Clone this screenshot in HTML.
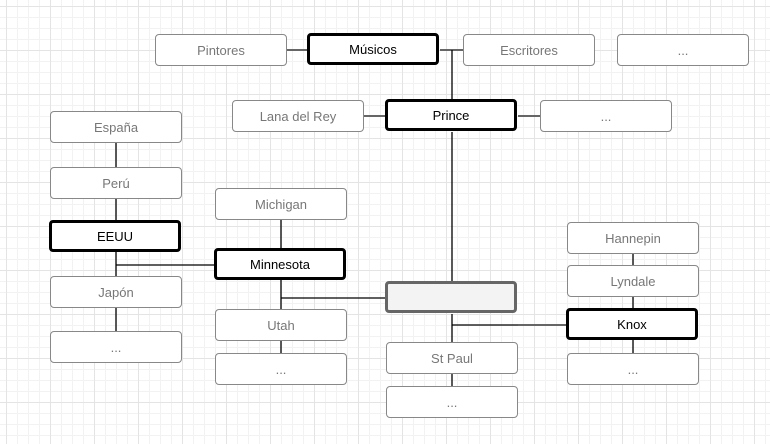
<!DOCTYPE html>
<html><head><meta charset="utf-8"><style>
body{margin:0;width:770px;height:444px;overflow:hidden;background:#fff;
background-image:linear-gradient(#e4e4e4 1px,transparent 1px),linear-gradient(90deg,#e4e4e4 1px,transparent 1px),linear-gradient(#f2f2f2 1px,transparent 1px),linear-gradient(90deg,#f2f2f2 1px,transparent 1px);
background-size:44px 44px,44px 44px,11px 11px,11px 11px;background-position:6px 6px,6px 6px,6px 6px,6px 6px;font-family:"Liberation Sans",sans-serif;position:relative}
.b{position:absolute;width:130px;height:30px;border:1px solid #888;border-radius:4px;background:#fff;color:#777;font-size:13px;display:flex;align-items:center;justify-content:center;box-sizing:content-box}
.k{border:3px solid #000;width:126px;height:26px;color:#000;font-size:13px}
svg{position:absolute;left:0;top:0}
</style></head><body>
<svg width="770" height="444">
<g stroke="#666" stroke-width="2" fill="none">
<line x1="287" y1="50" x2="308" y2="50"/><line x1="440" y1="50" x2="463" y2="50"/>
<line x1="364" y1="116" x2="386" y2="116"/><line x1="518" y1="116" x2="540" y2="116"/>
<line x1="518" y1="325" x2="567" y2="325"/>
</g>
<g stroke="#000" stroke-width="1.3" fill="none">
<line x1="452" y1="50" x2="452" y2="100"/><line x1="452" y1="132" x2="452" y2="282"/>
<line x1="116" y1="143" x2="116" y2="331"/><line x1="116" y1="265" x2="215" y2="265"/>
<line x1="281" y1="220" x2="281" y2="353"/><line x1="281" y1="298" x2="386" y2="298"/>
<line x1="452" y1="314" x2="452" y2="386"/><line x1="452" y1="325" x2="518" y2="325"/>
<line x1="633" y1="254" x2="633" y2="353"/>
</g>
</svg>
<div class="b" style="left:155px;top:34px">Pintores</div>
<div class="b k" style="left:307px;top:33px">Músicos</div>
<div class="b" style="left:463px;top:34px">Escritores</div>
<div class="b" style="left:617px;top:34px">...</div>
<div class="b" style="left:232px;top:100px">Lana del Rey</div>
<div class="b k" style="left:385px;top:99px">Prince</div>
<div class="b" style="left:540px;top:100px">...</div>
<div class="b" style="left:50px;top:111px">España</div>
<div class="b" style="left:50px;top:167px">Perú</div>
<div class="b k" style="left:49px;top:220px">EEUU</div>
<div class="b" style="left:50px;top:276px">Japón</div>
<div class="b" style="left:50px;top:331px">...</div>
<div class="b" style="left:215px;top:188px">Michigan</div>
<div class="b k" style="left:214px;top:248px">Minnesota</div>
<div class="b" style="left:215px;top:309px">Utah</div>
<div class="b" style="left:215px;top:353px">...</div>
<div class="b k" style="left:385px;top:281px;border-color:#666;background:#f3f3f3"></div>
<div class="b" style="left:386px;top:342px">St Paul</div>
<div class="b" style="left:386px;top:386px">...</div>
<div class="b" style="left:567px;top:222px">Hannepin</div>
<div class="b" style="left:567px;top:265px">Lyndale</div>
<div class="b k" style="left:566px;top:308px">Knox</div>
<div class="b" style="left:567px;top:353px">...</div>
</body></html>
